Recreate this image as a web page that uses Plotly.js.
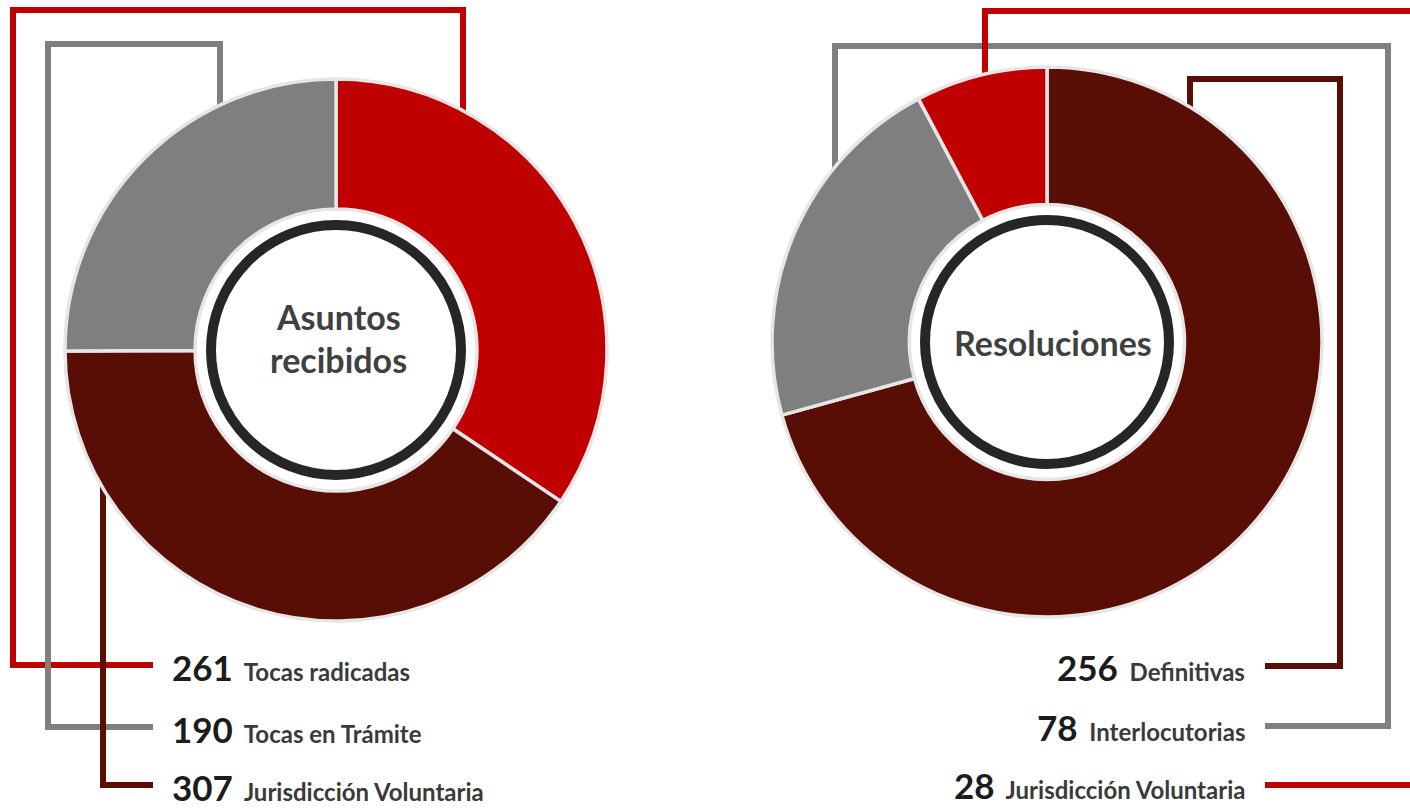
<!DOCTYPE html>
<html>
<head>
<meta charset="utf-8">
<script src="https://cdn.plot.ly/plotly-3.0.1.min.js"></script>
<style>
  html, body { margin: 0; padding: 0; background: #ffffff; }
  #chart { width: 1410px; height: 810px; }
</style>
</head>
<body>
<div id="chart"></div>
<script>
// ---- Data ----
const leftTitle = 'Asuntos recibidos';
const leftLabels = ['Tocas radicadas', 'Jurisdicción Voluntaria', 'Tocas en Trámite'];
const leftValues = [261, 307, 190];
const leftColors = ['#C00000', '#580D05', '#7F7F7F'];
const leftListOrder = [0, 2, 1];

const rightTitle = 'Resoluciones';
const rightLabels = ['Definitivas', 'Interlocutorias', 'Jurisdicción Voluntaria'];
const rightValues = [256, 78, 28];
const rightColors = ['#580D05', '#7F7F7F', '#C00000'];
const rightListOrder = [0, 1, 2];

// ---- Layout helpers (pixel -> paper) ----
const W = 1410, H = 810;
const X = px => px / W;
const Y = py => 1 - py / H;

const L = { cx: 336, cy: 350, r: 271, hole: 0.52, ring: 130 };
const R = { cx: 1047, cy: 342, r: 275, hole: 0.50, ring: 127 };

function pieTrace(labels, values, colors, g) {
  return {
    type: 'pie',
    labels: labels,
    values: values,
    sort: false,
    direction: 'clockwise',
    rotation: 0,
    hole: g.hole,
    textinfo: 'none',
    hoverinfo: 'label+value',
    showlegend: false,
    marker: { colors: colors, line: { color: '#e6e6e6', width: 3.5 } },
    domain: {
      x: [X(g.cx - g.r), X(g.cx + g.r)],
      y: [Y(g.cy + g.r), Y(g.cy - g.r)]
    }
  };
}

function circle(g, r, fill, lineColor, lineWidth) {
  return {
    type: 'circle', xref: 'paper', yref: 'paper', layer: 'above',
    x0: X(g.cx - r), x1: X(g.cx + r), y0: Y(g.cy + r), y1: Y(g.cy - r),
    fillcolor: fill, line: { color: lineColor, width: lineWidth }
  };
}

function bracket(points, color) {
  const d = points.map((p, i) => (i ? 'L' : 'M') + X(p[0]) + ',' + Y(p[1])).join(' ');
  return {
    type: 'path', xref: 'paper', yref: 'paper', layer: 'below',
    path: d, line: { color: color, width: 6 }
  };
}

const shapes = [
  // left connectors
  bracket([[463, 200], [463, 10], [13, 10], [13, 665], [153, 665]], leftColors[0]),
  bracket([[220, 200], [220, 44], [48, 44], [48, 727], [153, 727]], leftColors[2]),
  bracket([[103, 420], [103, 785], [153, 785]], leftColors[1]),
  // right connectors
  bracket([[1190, 200], [1190, 79], [1340, 79], [1340, 666], [1265, 666]], rightColors[0]),
  bracket([[835, 230], [835, 46], [1388, 46], [1388, 726], [1265, 726]], rightColors[1]),
  bracket([[985, 150], [985, 11], [1420, 11]], rightColors[2]),
  bracket([[1265, 785], [1420, 785]], rightColors[2]),
  // centre discs
  circle(L, L.ring + 7, '#ffffff', 'rgba(0,0,0,0)', 0),
  circle(L, L.ring - 5, '#ffffff', '#262626', 10),
  circle(R, R.ring + 7, '#ffffff', 'rgba(0,0,0,0)', 0),
  circle(R, R.ring - 5, '#ffffff', '#262626', 10)
];

const FONT = 'Lato, "Open Sans", sans-serif';

function listText(value, label) {
  return '<span style="font-size:35px;color:#1c1c1c">' + value + '</span>' +
         '<span style="font-size:24px;color:#3a3a3a">\u00a0 ' + label + '</span>';
}

const annotations = [];
// centre titles
const lw = leftTitle.split(' ');
const titleFont = { family: FONT, size: 34, color: '#404040' };
annotations.push({ xref: 'paper', yref: 'paper', x: X(338), y: Y(316), text: '<b>' + lw[0] + '</b>',
  showarrow: false, xanchor: 'center', yanchor: 'middle', font: titleFont });
annotations.push({ xref: 'paper', yref: 'paper', x: X(338), y: Y(359), text: '<b>' + lw[1] + '</b>',
  showarrow: false, xanchor: 'center', yanchor: 'middle', font: titleFont });
annotations.push({ xref: 'paper', yref: 'paper', x: X(1053), y: Y(343), text: '<b>' + rightTitle + '</b>',
  showarrow: false, xanchor: 'center', yanchor: 'middle', font: titleFont });

const leftRowsY = [667, 729, 787];
leftListOrder.forEach((idx, k) => {
  annotations.push({ xref: 'paper', yref: 'paper', x: X(170), y: Y(leftRowsY[k]),
    text: '<b>' + listText(leftValues[idx], leftLabels[idx]) + '</b>',
    showarrow: false, xanchor: 'left', yanchor: 'middle', font: { family: FONT, size: 24, color: '#3a3a3a' } });
});
const rightRowsY = [667, 727, 785];
rightListOrder.forEach((idx, k) => {
  annotations.push({ xref: 'paper', yref: 'paper', x: X(1247), y: Y(rightRowsY[k]),
    text: '<b>' + listText(rightValues[idx], rightLabels[idx]) + '</b>',
    showarrow: false, xanchor: 'right', yanchor: 'middle', font: { family: FONT, size: 24, color: '#3a3a3a' } });
});

const data = [
  pieTrace(leftLabels, leftValues, leftColors, L),
  pieTrace(rightLabels, rightValues, rightColors, R)
];

const layout = {
  width: W, height: H,
  margin: { l: 0, r: 0, t: 0, b: 0, pad: 0 },
  paper_bgcolor: '#ffffff',
  plot_bgcolor: '#ffffff',
  showlegend: false,
  shapes: shapes,
  annotations: annotations,
  font: { family: FONT }
};

Plotly.newPlot('chart', data, layout, { displayModeBar: false, staticPlot: true });
</script>
</body>
</html>
